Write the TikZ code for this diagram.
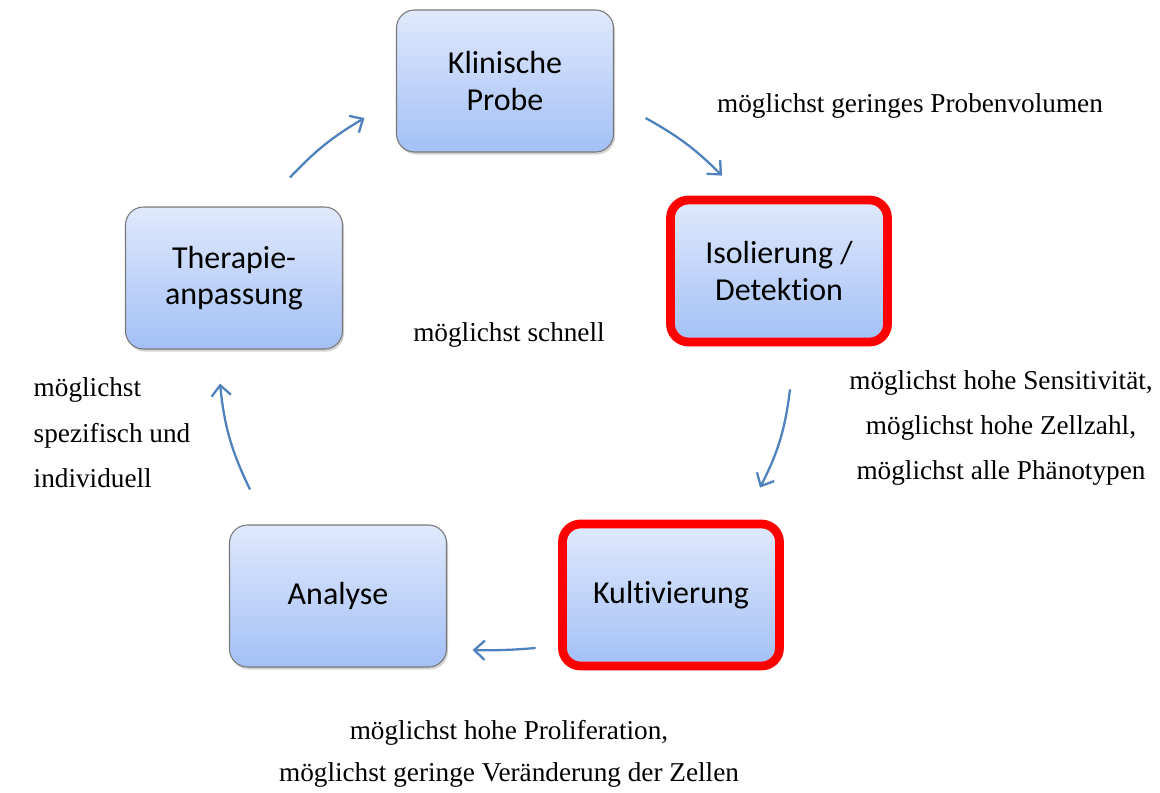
\documentclass[tikz,border=0pt]{standalone}
\usepackage{fontspec}
\setmainfont{Liberation Serif}
\newfontfamily\boxfont[Ligatures=NoCommon]{Carlito}
\usetikzlibrary{arrows.meta, positioning, calc, shadows}
\definecolor{boxTop}{RGB}{224,233,252}
\definecolor{boxBottom}{RGB}{163,192,246}
\definecolor{boxLine}{RGB}{120,120,120}
\definecolor{flowBlue}{RGB}{79,129,189}
\definecolor{hotRed}{RGB}{255,0,0}

\begin{document}
\begin{tikzpicture}[
    stage/.style={rectangle, rounded corners=0.36cm, draw=boxLine, line width=0.6pt,
                  top color=boxTop, bottom color=boxBottom,
                  minimum width=4.34cm, minimum height=2.84cm,
                  drop shadow={shadow xshift=0.03cm, shadow yshift=-0.05cm, opacity=0.35},
                  font=\boxfont\fontsize{18.2}{20.5}\selectfont, align=center},
    focus/.style={stage, draw=hotRed, line width=5pt},
    note/.style={font=\fontsize{15.5}{25.8}\selectfont, align=center},
    flow/.style={draw=flowBlue, line width=1.3pt, -{Straight Barb[length=6pt, width=11pt]}},
  ]
    \useasboundingbox (0,0) rectangle (23.2,-15.84);

    \node[stage] (probe) at (10.10,-1.62) {Klinische\\Probe};
    \node[focus] (iso) at (15.58,-5.42) {Isolierung /\\Detektion};
    \node[focus] (kult) at (13.42,-11.90) {Kultivierung};
    \node[stage] (analyse) at (6.76,-11.92) {Analyse};
    \node[stage] (thera) at (4.68,-5.56) {Therapie-\\anpassung};

    % Anforderungen
    \node[note] (vol) at (18.20,-2.12) {möglichst geringes Probenvolumen};
    \node[note] (schnell) at (10.18,-6.70) {möglichst schnell};
    \node[note] (sens) at (20.02,-8.56)
      {möglichst hohe Sensitivität,\\möglichst hohe Zellzahl,\\möglichst alle Phänotypen};
    \node[note, align=left, anchor=west] (spez) at (0.55,-8.66)
      {möglichst\\spezifisch und\\individuell};
    \node[note, font=\fontsize{15.5}{24}\selectfont] (prolif) at (10.18,-15.08)
      {möglichst hohe Proliferation,\\möglichst geringe Veränderung der Zellen};

    % Kreislauf
    \coordinate (a1) at ($(thera.north)+(1.12,0.58)$);
    \coordinate (b1) at ($(probe.west)+(-0.63,-0.74)$);
    \coordinate (a2) at ($(probe.east)+(0.63,-0.74)$);
    \coordinate (b2) at ($(iso.north)+(-1.14,0.40)$);
    \coordinate (a3) at ($(iso.south)+(0.22,-0.86)$);
    \coordinate (b3) at ($(kult.north)+(1.78,0.64)$);
    \coordinate (a4) at ($(kult.west)+(-0.45,-1.06)$);
    \coordinate (b4) at ($(analyse.east)+(0.51,-1.08)$);
    \coordinate (a5) at ($(analyse.north)+(-1.76,0.70)$);
    \coordinate (b5) at ($(thera.south)+(-0.28,-0.68)$);
    \draw[flow] (a1) to[bend left=8] (b1);
    \draw[flow] (a2) to[bend left=8] (b2);
    \draw[flow] (a3) to[bend left=10] (b3);
    \draw[flow] (a4) to[bend left=3] (b4);
    \draw[flow] (a5) to[bend left=10] (b5);
\end{tikzpicture}
\end{document}
